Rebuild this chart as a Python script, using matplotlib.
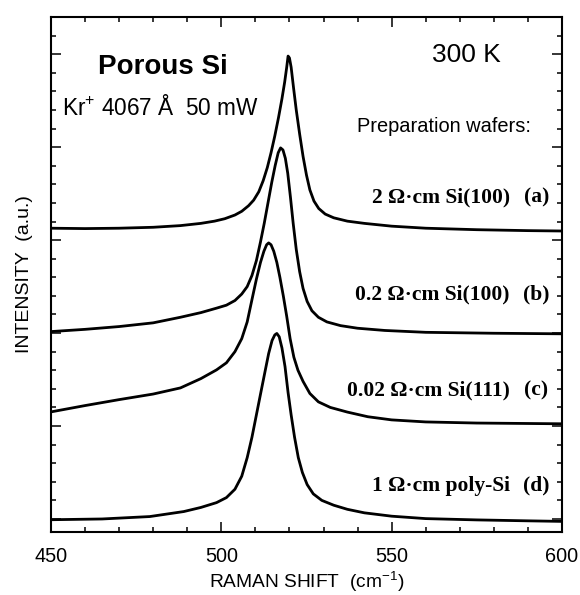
import matplotlib
matplotlib.use('Agg')
import matplotlib.pyplot as plt
from matplotlib.ticker import MultipleLocator

plt.rcParams['font.family'] = ['Liberation Sans', 'DejaVu Sans']
plt.rcParams['mathtext.fontset'] = 'custom'
plt.rcParams['mathtext.rm'] = 'Liberation Sans'
plt.rcParams['mathtext.it'] = 'Liberation Sans:italic'
plt.rcParams['mathtext.bf'] = 'Liberation Sans:bold'

# ---- data (Raman shift in cm^-1, intensity in arbitrary offset units) ----
a_x = [450, 460, 470, 480, 488, 494, 498, 501, 504, 506, 508, 509.5, 511, 512.3,
       513.5, 514.6, 515.7, 516.8, 517.8, 518.6, 519.2, 519.6, 520.0, 520.5, 521.2,
       522.0, 523.0, 524.0, 525.0, 526.0, 527.2, 528.6, 530.5, 533, 537, 542, 550,
       560, 575, 590, 600]
a_y = [15.64, 15.62, 15.64, 15.69, 15.78, 15.9, 16.02, 16.15, 16.35, 16.55, 16.85,
       17.15, 17.6, 18.2, 18.9, 19.7, 20.6, 21.6, 22.6, 23.5, 24.3, 24.9, 24.8,
       24.3, 23.2, 22.0, 20.7, 19.5, 18.5, 17.7, 17.1, 16.7, 16.4, 16.2, 16.02,
       15.9, 15.75, 15.64, 15.56, 15.51, 15.49]

b_x = [450, 460, 470, 480, 488, 494, 498.6, 501.5, 504, 506, 507.6, 509, 510.3,
       511.5, 512.6, 513.7, 514.8, 515.8, 516.7, 517.4, 518.1, 518.8, 519.5, 520.3,
       521.1, 522.0, 523.0, 524.0, 525.2, 526.6, 528.5, 531, 535, 540, 548, 560,
       580, 600]
b_y = [10.08, 10.2, 10.35, 10.55, 10.85, 11.1, 11.34, 11.5, 11.75, 12.1, 12.5,
       13.1, 13.9, 14.9, 15.9, 17.0, 18.1, 19.0, 19.7, 19.96, 19.85, 19.4, 18.6,
       17.3, 15.9, 14.5, 13.3, 12.4, 11.7, 11.2, 10.85, 10.6, 10.4, 10.26, 10.14,
       10.04, 9.99, 9.96]

c_x = [450, 460, 470, 480, 488, 494, 498.6, 501.5, 504, 506, 507.6, 509, 510.3,
       511.5, 512.5, 513.3, 513.9, 514.6, 515.4, 516.3, 517.2, 518.2, 519.2, 520.2,
       521.3, 522.5, 524, 526, 528.5, 532, 537, 543, 550, 560, 575, 600]
c_y = [5.76, 6.1, 6.42, 6.72, 7.05, 7.55, 8.02, 8.4, 9.0, 9.7, 10.6, 11.8, 12.9,
       13.8, 14.4, 14.75, 14.85, 14.75, 14.4, 13.8, 13.0, 12.0, 10.9, 9.7, 8.7,
       8.0, 7.4, 6.75, 6.3, 6.0, 5.75, 5.5, 5.33, 5.22, 5.16, 5.12]

d_x = [450, 465, 479, 489, 494, 498.6, 501.5, 504, 506, 507.6, 509, 510.3, 511.6,
       512.8, 513.9, 514.9, 515.7, 516.3, 517.0, 517.8, 518.7, 519.6, 520.5, 521.5,
       522.6, 523.8, 525.2, 527, 529.5, 533, 537, 542, 550, 560, 575, 590, 600]
d_y = [-0.04, 0.0, 0.13, 0.4, 0.62, 0.88, 1.15, 1.6, 2.3, 3.3, 4.4, 5.6, 6.8,
       7.9, 8.9, 9.6, 9.9, 9.98, 9.8, 9.2, 8.2, 6.8, 5.6, 4.4, 3.3, 2.5, 1.85,
       1.35, 1.0, 0.74, 0.52, 0.33, 0.15, 0.02, -0.05, -0.1, -0.13]

sample_labels = ["2 \u03a9\u00b7cm Si(100)", "0.2 \u03a9\u00b7cm Si(100)",
                 "0.02 \u03a9\u00b7cm Si(111)", "1 \u03a9\u00b7cm poly-Si"]
sample_tags = ["(a)", "(b)", "(c)", "(d)"]
x_ticks = [450, 500, 550, 600]

# ---- figure ----
fig = plt.figure(figsize=(5.8, 5.95), dpi=100)
ax = fig.add_axes([0.0879, 0.1059, 0.8810, 0.8655])

for xs, ys in [(a_x, a_y), (b_x, b_y), (c_x, c_y), (d_x, d_y)]:
    ax.plot(xs, ys, color='black', lw=2.0, solid_joinstyle='round',
            solid_capstyle='round')

ax.set_xlim(450, 600)
ax.set_ylim(-0.7, 27)
ax.set_xticks(x_ticks)
ax.set_xticklabels([str(t) for t in x_ticks])
ax.xaxis.set_minor_locator(MultipleLocator(10))
ax.yaxis.set_major_locator(MultipleLocator(5))
ax.yaxis.set_minor_locator(MultipleLocator(1))
ax.tick_params(which='both', direction='in', top=True, right=True,
               labelleft=False, width=1.1, colors='black')
ax.tick_params(which='major', length=7, labelsize=14.3, pad=11)
ax.tick_params(which='minor', length=3.5)
for s in ax.spines.values():
    s.set_linewidth(1.5)

ax.set_xlabel("RAMAN SHIFT  (cm$^{-1}$)", fontsize=13.8, labelpad=2.5)
ax.set_ylabel("INTENSITY  (a.u.)", fontsize=14, labelpad=13)

ax.text(463.8, 23.94, "Porous Si", fontsize=20, fontweight='bold', ha='left',
        va='baseline')
ax.text(453.2, 21.73, "Kr$^{+}$ 4067 \u00c5  50 mW", fontsize=16.3, ha='left',
        va='baseline')
ax.text(561.8, 24.6, "300 K", fontsize=19, ha='left', va='baseline')
ax.text(539.8, 20.83, "Preparation wafers:", fontsize=14.4, ha='left',
        va='baseline')

label_y = [17.0, 11.78, 6.62, 1.52]
for lab, tag, yy in zip(sample_labels, sample_tags, label_y):
    ax.text(584.7, yy, lab, fontsize=15.5, family='Liberation Serif',
            fontweight='bold', ha='right', va='baseline')
    ax.text(592.5, yy, tag, fontsize=15.5, family='Liberation Serif',
            fontweight='bold', ha='center', va='baseline')

fig.savefig('out.png', dpi=100)
